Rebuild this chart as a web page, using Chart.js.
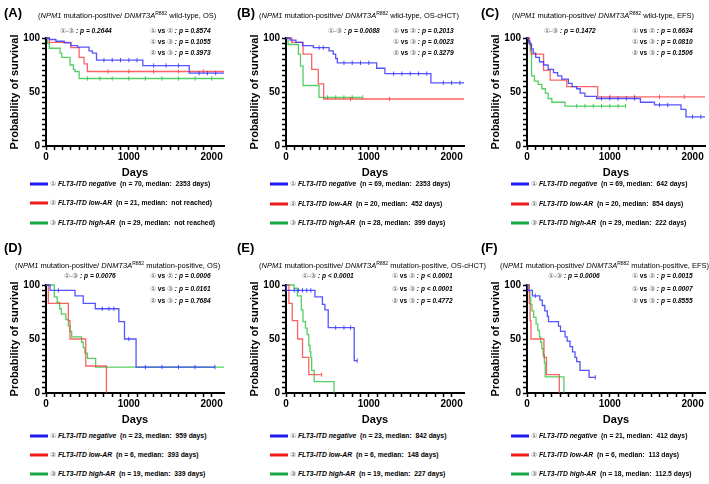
<!DOCTYPE html>
<html>
<head>
<meta charset="utf-8">
<script src="https://cdn.jsdelivr.net/npm/chart.js@4.4.0/dist/chart.umd.min.js"></script>
<style>
  body { margin: 0; background: #fff; }
  #fig { position: relative; width: 709px; height: 484px; overflow: hidden;
         font-family: "Liberation Sans", Arial, sans-serif; color: #000; }
  #fig canvas { position: absolute; }
  .t { position: absolute; white-space: nowrap; line-height: 1; transform: translateY(-50%); }
  .lab { font-size: 13px; font-weight: bold; }
  .sub { font-size: 7.5px; }
  .sub sup { font-size: 5px; vertical-align: 3px; }
  .pv { font-size: 6.6px; font-weight: bold; font-style: italic; }
  .pv .vs { font-style: normal; }
  .cd { font-weight: normal; font-style: normal; color: #555; }
  .leg { font-size: 6.8px; font-weight: bold; }
  .sw { position: absolute; height: 3px; width: 18px; transform: translateY(-50%); }
</style>
</head>
<body>
<div id="fig"></div>
<script>
// tick labels
const xTicks = [0, 1000, 2000]
const yTicks = [0, 50, 100]

// Kaplan-Meier steps: [day, % surviving]
const A_neg  = [[0,100],[40,98.6],[120,97],[220,95.5],[300,93],[380,91.5],[520,88],[560,86],[610,79.5],[1170,74.5],[1730,67.5],[2150,67.5]]
const A_low  = [[0,100],[40,96],[300,91],[400,82],[460,76],[500,69],[2150,69]]
const A_high = [[0,100],[20,95],[40,90.5],[170,86],[190,82],[290,75],[330,71],[350,69],[400,62.5],[2150,62.5]]
const A_negCens  = [700,800,900,1000,1100,1300,1450,1600,1850,1950,2050]
const A_lowCens  = [750,1000,1300,1600,1900]
const A_highCens = [500,650,800,1000,1200,1400,1600,1800,2000]

const B_neg  = [[0,100],[50,98],[120,96],[200,93],[330,91],[520,88],[570,85],[600,81],[620,77],[1095,72],[1195,67],[1750,58.5],[2150,58.5]]
const B_low  = [[0,100],[70,96],[206,85],[310,71],[390,57.5],[455,43.5],[2150,43.5]]
const B_high = [[0,100],[25,94],[150,85],[175,74],[206,56],[399,45],[928,45]]
const B_negCens  = [400,450,700,800,900,1000,1300,1400,1500,1600,1700,1900,2000,2100]
const B_lowCens  = [780,1250]
const B_highCens = [500,600,700,800,928]

const C_neg  = [[0,100],[15,97],[35,94],[55,90],[75,86],[105,82],[150,78],[200,75],[255,71],[320,68],[370,65],[420,62],[500,58],[545,55],[600,53],[642,49],[700,46],[840,44],[1370,40.5],[1540,38],[1860,34],[1920,27],[2150,27]]
const C_low  = [[0,100],[30,95],[50,85],[200,70],[280,61],[480,55],[854,45.5],[2150,45.5]]
const C_high = [[0,100],[20,95],[40,88],[55,65],[90,60],[135,57],[180,53],[222,49],[255,44],[300,40.5],[460,37],[1190,37]]
const C_negCens  = [900,1000,1100,1200,1300,1600,1700,2000,2100]
const C_lowCens  = [1000,1300,1600,1900]
const C_highCens = [600,700,800,900,1000,1100,1190]

const D_neg  = [[0,100],[50,95],[350,90],[450,83],[595,78],[880,66],[948,50],[1088,24],[2040,24]]
const D_low  = [[0,100],[28,83],[270,67],[290,50],[480,25],[730,0]]
const D_high = [[0,100],[100,89],[135,84],[165,78],[185,73],[240,68],[270,62],[290,57],[310,52],[430,47],[450,42],[470,37],[500,32],[600,24],[2150,24]]
const D_negCens  = [150,680,760,820,1000,1200,1400,1600,1800,2040]
const D_lowCens  = []
const D_highCens = []

const E_neg  = [[0,100],[5,95],[350,89],[440,82],[470,77],[510,60.5],[824,30],[860,30]]
const E_low  = [[0,100],[35,83],[75,67],[140,50],[200,33],[275,17],[430,17]]
const E_high = [[0,100],[98,97],[137,90],[185,77],[205,66],[235,60],[255,54],[275,44],[290,38],[300,33],[310,21],[340,10.5],[580,0]]
const E_negCens  = [100,150,200,250,300,600,700,780,860]
const E_lowCens  = [430]
const E_highCens = []

const F_neg  = [[0,100],[10,95],[65,90],[155,86],[185,81],[215,76],[245,71],[260,66],[380,62],[405,57],[460,52],[485,48],[520,43],[550,38],[580,33],[600,29],[640,21],[750,14.5],[825,14.5]]
const F_low  = [[0,100],[28,83],[38,67],[48,50],[205,33],[235,17],[390,0]]
const F_high = [[0,100],[25,94],[35,88],[45,82],[60,76],[80,70],[110,64],[130,58],[150,52],[165,47],[180,41],[195,35],[210,28],[220,15],[446,0]]
const F_negCens  = [100,825]
const F_lowCens  = []
const F_highCens = []

// panel texts
const panelLabels = ["(A)", "(B)", "(C)", "(D)", "(E)", "(F)"]
const dnmtStatus  = ["wild-type", "wild-type", "wild-type", "mutation-positive", "mutation-positive", "mutation-positive"]
const endpoints   = ["OS", "OS-cHCT", "EFS", "OS", "OS-cHCT", "EFS"]
const pAll = ["= 0.2644", "= 0.0088", "= 0.1472", "= 0.0076", "< 0.0001", "= 0.0006"]
const p12  = ["= 0.8574", "= 0.2013", "= 0.6634", "= 0.0006", "< 0.0001", "= 0.0015"]
const p13  = ["= 0.1055", "= 0.0023", "= 0.0810", "= 0.0161", "< 0.0001", "= 0.0007"]
const p23  = ["= 0.3973", "= 0.3279", "= 0.1506", "= 0.7684", "= 0.4772", "= 0.8555"]
const nNeg  = [70, 69, 69, 23, 23, 21]
const nLow  = [21, 20, 20, 6, 6, 6]
const nHigh = [29, 28, 29, 19, 19, 18]
const medNeg  = ["2353 days", "2353 days", "642 days", "959 days", "842 days", "412 days"]
const medLow  = ["not reached", "452 days", "854 days", "393 days", "148 days", "113 days"]
const medHigh = ["not reached", "399 days", "222 days", "339 days", "227 days", "112.5 days"]
const groupNames = ["FLT3-ITD negative", "FLT3-ITD low-AR", "FLT3-ITD high-AR"]
const circled = ["\u2460", "\u2461", "\u2462"]

const curves = [
  [A_neg, A_low, A_high], [B_neg, B_low, B_high], [C_neg, C_low, C_high],
  [D_neg, D_low, D_high], [E_neg, E_low, E_high], [F_neg, F_low, F_high]
]
const censors = [
  [A_negCens, A_lowCens, A_highCens], [B_negCens, B_lowCens, B_highCens], [C_negCens, C_lowCens, C_highCens],
  [D_negCens, D_lowCens, D_highCens], [E_negCens, E_lowCens, E_highCens], [F_negCens, F_lowCens, F_highCens]
]

const lineColors   = ["rgba(55,55,255,0.85)", "rgba(250,60,60,0.8)", "rgba(40,195,60,0.8)"]
const legendColors = ["#1c1cf0", "#f01c1c", "#16a845"]

// layout
const colX = [0, 240, 481]
const rowY = [0, 247]
const subLeft  = [38, 259, 512, 15, 259, 500]
const pLeft    = [60, 328, 544, 64, 302, 548]
const pRight   = [150, 393, 632, 150, 392, 632]
const labLeft  = [4, 237, 481, 4, 237, 481]
const labTop   = [12, 12, 12, 247, 247, 247]
const subTop   = [15, 15, 15, 265, 265, 265]
const pTops    = [[31, 42, 53], [31, 42, 53], [31, 42, 53], [276, 289, 301], [276, 289, 301], [276, 289, 301]]
const legTops  = [[184, 203, 223], [184, 204, 223], [184, 204, 223], [436, 455, 474], [436, 455, 474], [436, 455, 474]]

const fig = document.getElementById("fig")
const font = (size) => ({ family: "Liberation Sans", size: size, weight: "bold" })

const survAt = (pts, d) => {
  let v = pts[0][1]
  for (const p of pts) { if (p[0] <= d) v = p[1] }
  return v
}

function addText(cls, left, top, html) {
  const el = document.createElement("div")
  el.className = "t " + cls
  el.style.left = left + "px"
  el.style.top = top + "px"
  el.innerHTML = html
  fig.appendChild(el)
}

for (let i = 0; i < 6; i++) {
  const ox = colX[i % 3]
  const oy = rowY[Math.floor(i / 3)]

  const canvas = document.createElement("canvas")
  canvas.width = 230
  canvas.height = 180
  canvas.style.left = ox + "px"
  canvas.style.top = oy + "px"
  fig.appendChild(canvas)

  const datasets = []
  curves[i].forEach((pts, g) => {
    datasets.push({
      type: "line",
      data: pts.map(p => ({ x: p[0], y: p[1] })),
      borderColor: lineColors[g],
      borderWidth: 1.3,
      stepped: "before",   // horizontal first, then drop
      pointRadius: 0,
      fill: false,
      clip: false
    })
    datasets.push({
      type: "scatter",
      data: censors[i][g].map(d => ({ x: d, y: survAt(pts, d) })),
      pointStyle: "line",
      rotation: 90,
      radius: 2.2,
      borderColor: lineColors[g],
      borderWidth: 1,
      clip: false
    })
  })

  new Chart(canvas, {
    type: "line",
    data: { datasets },
    options: {
      responsive: false,
      animation: false,
      events: [],
      layout: { padding: { top: 38, right: 6, left: 0, bottom: 0 } },
      plugins: { legend: { display: false }, tooltip: { enabled: false } },
      scales: {
        x: {
          type: "linear", min: 0, max: 2150,
          afterFit: (s) => { s.height = 34 },
          afterBuildTicks: (s) => { s.ticks = s.ticks.filter(t => t.value % 100 === 0) },
          ticks: {
            stepSize: 100, autoSkip: false, maxRotation: 0, padding: 1,
            font: font(10), color: "#000",
            callback: (v) => xTicks.includes(v) ? String(v) : ""
          },
          grid: { drawOnChartArea: false, tickLength: 4, tickColor: "#000", tickWidth: 1.5 },
          border: { color: "#000", width: 2 },
          title: { display: true, text: "Days", font: font(11), color: "#000", padding: 0 }
        },
        y: {
          min: 0, max: 100,
          afterFit: (s) => { s.width = 46 },
          ticks: {
            stepSize: 5, autoSkip: false, padding: 2,
            font: font(10), color: "#000",
            callback: (v) => yTicks.includes(v) ? String(v) : ""
          },
          grid: { drawOnChartArea: false, tickLength: 4, tickColor: "#000", tickWidth: 1.5 },
          border: { color: "#000", width: 2 },
          title: { display: true, text: "Probability of survival", font: font(11), color: "#000", padding: { top: 8, bottom: 0 } }
        }
      }
    }
  })

  addText("lab", labLeft[i], labTop[i], panelLabels[i])
  addText("sub", subLeft[i], subTop[i],
    `(<i>NPM1</i> mutation-positive/ <i>DNMT3A</i><sup>R882</sup> ${dnmtStatus[i]}, ${endpoints[i]})`)
  addText("pv", pLeft[i], pTops[i][0], `<span class="cd">①-③</span> : p ${pAll[i]}`)
  addText("pv", pRight[i], pTops[i][0], `<span class="cd">①</span> <span class="vs">vs</span> <span class="cd">②</span> : p ${p12[i]}`)
  addText("pv", pRight[i], pTops[i][1], `<span class="cd">①</span> <span class="vs">vs</span> <span class="cd">③</span> : p ${p13[i]}`)
  addText("pv", pRight[i], pTops[i][2], `<span class="cd">②</span> <span class="vs">vs</span> <span class="cd">③</span> : p ${p23[i]}`)

  const ns = [nNeg[i], nLow[i], nHigh[i]]
  const meds = [medNeg[i], medLow[i], medHigh[i]]
  for (let g = 0; g < 3; g++) {
    const sw = document.createElement("div")
    sw.className = "sw"
    sw.style.left = (ox + 30) + "px"
    sw.style.top = legTops[i][g] + "px"
    sw.style.background = legendColors[g]
    fig.appendChild(sw)
    addText("leg", ox + 50, legTops[i][g],
      `<span class="cd">${circled[g]}</span> <i>${groupNames[g]}</i>&nbsp; (n = ${ns[g]}, median:&nbsp; ${meds[g]})`)
  }
}
</script>
</body>
</html>
